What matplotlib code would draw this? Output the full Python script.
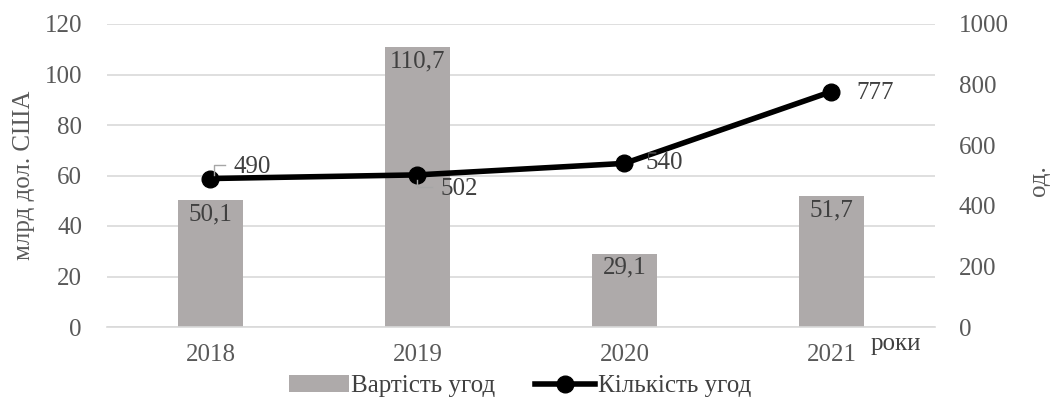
import matplotlib.pyplot as plt

# Дані: вартість та кількість угод за роками
roky = ["2018", "2019", "2020", "2021"]
vartist = [50.1, 110.7, 29.1, 51.7]
kilkist = [490, 502, 540, 777]

plt.rcParams['font.family'] = ['Liberation Serif', 'DejaVu Serif']
tekst_kolir = '#595959'
fs = 18

fig = plt.figure(figsize=(10.52, 4.03), dpi=100)
ax = fig.add_axes([107 / 1052, 1 - 327 / 403, 828 / 1052, 303 / 403])
ax2 = ax.twinx()

x = range(len(roky))
bars = ax.bar(x, vartist, width=0.31, color='#aeaaaa', zorder=2, label='Вартість угод')
ax.set_ylim(0, 120)
ax.set_xlim(-0.5, 3.5)
ax.set_yticks(range(0, 121, 20))
ax.grid(axis='y', color='#d9d9d9', linewidth=1.2, zorder=0)
ax.set_axisbelow(True)

for xi, v in zip(x, vartist):
    ax.text(xi, v - 1.2, f"{v:.1f}".replace('.', ','), ha='center', va='top',
            fontsize=fs, color='#404040', zorder=3)

line, = ax2.plot(x, kilkist, color='black', linewidth=4, marker='o',
                 markersize=12, zorder=4, label='Кількість угод')
ax2.set_ylim(0, 1000)
ax2.set_yticks(range(0, 1001, 200))

# підписи значень лінії
zsuv = [(0.11, 38, 'center'), (0.11, -45, 'center'), (0.10, 0, 'center'), (0.12, -5, 'center')]
for xi, v, (dx, dy, va) in zip(x, kilkist, zsuv):
    ax2.text(xi + dx, v + dy, str(v), ha='left', va=va, fontsize=fs, color='#404040', zorder=5)

# виносні лінії до підписів 490 та 502
vynos = dict(color='#a6a6a6', linewidth=1, zorder=6)
ax2.plot([0.015, 0.015, 0.07], [503, 536, 536], **vynos)
ax2.plot([1.0, 1.0, 1.07], [485, 462, 462], **vynos)

ax.set_xticks(list(x))
ax.set_xticklabels(roky)
for a in (ax, ax2):
    for s in a.spines.values():
        s.set_visible(False)
    a.tick_params(length=0, labelsize=fs, labelcolor=tekst_kolir)
ax.spines['bottom'].set_visible(True)
ax.spines['bottom'].set_color('#d9d9d9')
ax.spines['bottom'].set_linewidth(1.2)
ax.tick_params(axis='x', pad=12)
ax.tick_params(axis='y', pad=18)
ax2.tick_params(axis='y', pad=17)

# назви осей
fig.text(24 / 1052, 1 - 175 / 403, 'млрд дол. США', fontsize=fs, color=tekst_kolir,
         rotation=90, ha='center', va='center')
fig.text(1039 / 1052, 1 - 181 / 403, 'од.', fontsize=fs, color=tekst_kolir,
         rotation=90, ha='center', va='center')
fig.text(896 / 1052, 1 - 344 / 403, 'роки', fontsize=fs, color='#404040', ha='center', va='center')

fig.legend(handles=[bars, line], loc='center', bbox_to_anchor=(0.494, 1 - 386 / 403),
           ncol=2, frameon=False, fontsize=fs, handlelength=2.4, handletextpad=0.1,
           columnspacing=1.6, labelcolor='#404040')

fig.savefig('out.png', dpi=100)
